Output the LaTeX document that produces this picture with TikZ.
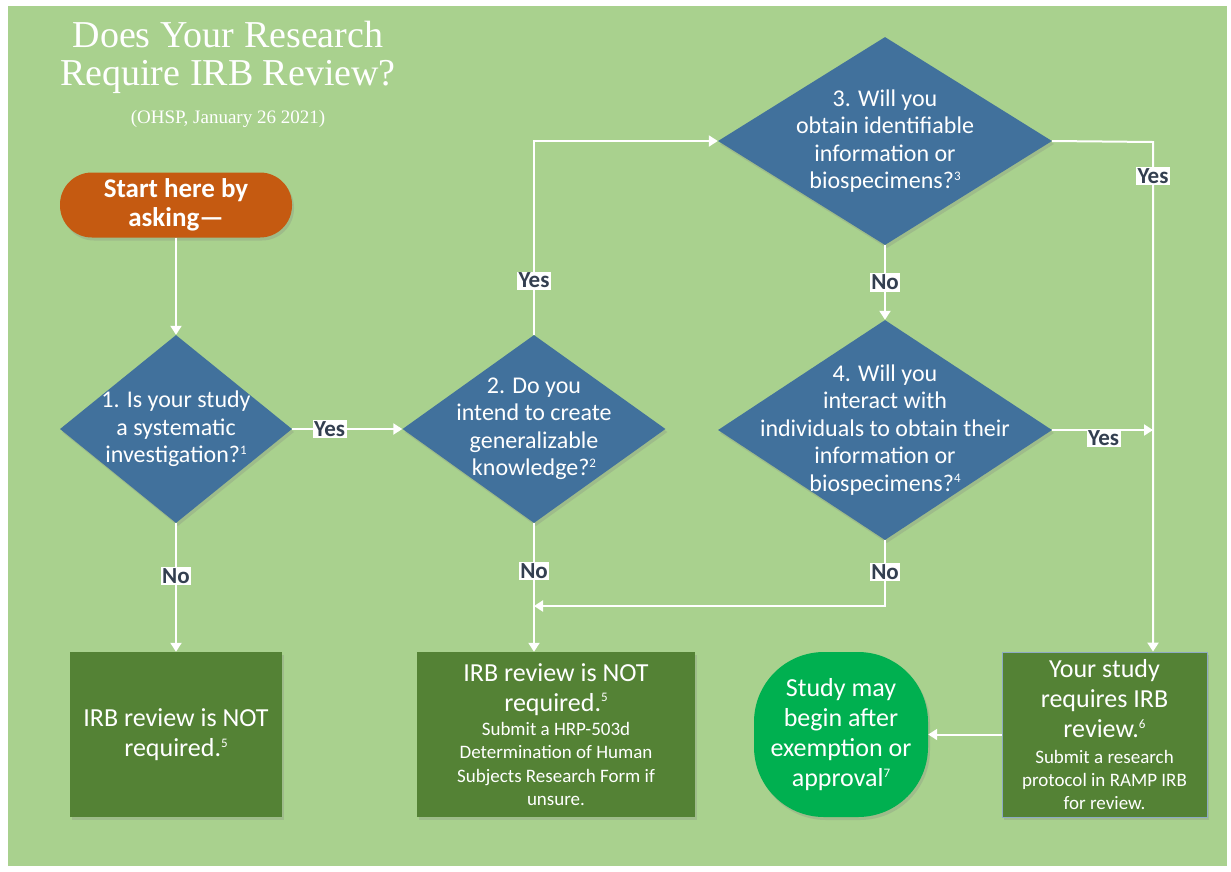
\documentclass[tikz,border=0pt]{standalone}
\usepackage{fontspec}
\setmainfont{Carlito}
\newfontfamily\headfont{Liberation Serif}
\usetikzlibrary{shapes.geometric, arrows.meta, positioning, calc, shadows}

\definecolor{bggreen}{HTML}{A9D18E}
\definecolor{qblue}{HTML}{41719C}
\definecolor{boxgreen}{HTML}{548235}
\definecolor{startorange}{HTML}{C55A11}
\definecolor{okgreen}{HTML}{00B050}
\definecolor{labeltext}{HTML}{333F50}

\newcommand{\smalltxt}[1]{{\fontsize{19}{23}\selectfont #1}}
\newcommand{\fnote}[1]{\raisebox{0.75ex}{\fontsize{13}{13}\selectfont #1}}

\begin{document}
\begin{tikzpicture}[
    x=1pt, y=-1pt,
    question/.style={diamond, fill=qblue, inner sep=0pt,
        drop shadow={shadow xshift=2pt, shadow yshift=-3pt, opacity=0.25}},
    qtext/.style={text=white, align=center, font=\fontsize{24}{27.5}\selectfont},
    result/.style={rectangle, fill=boxgreen, text=white, align=center, inner sep=0pt,
        minimum height=165pt, font=\fontsize{26}{30}\selectfont,
        drop shadow={shadow xshift=2pt, shadow yshift=-3pt, opacity=0.25}},
    startbox/.style={rectangle, rounded corners=32pt, fill=startorange, text=white,
        minimum width=232pt, minimum height=65pt, align=center,
        font=\bfseries\fontsize{27}{29}\selectfont,
        drop shadow={shadow xshift=2pt, shadow yshift=-3pt, opacity=0.25}},
    endbox/.style={rectangle, rounded corners=70pt, fill=okgreen, text=white,
        minimum width=174pt, minimum height=165pt, align=center,
        font=\fontsize{26}{30}\selectfont,
        drop shadow={shadow xshift=2pt, shadow yshift=-3pt, opacity=0.25}},
    answer/.style={fill=white, text=labeltext, inner sep=1.5pt,
        font=\bfseries\fontsize{23}{24}\selectfont},
    arrow/.style={draw=white, line width=2pt, -{Triangle[width=11pt,length=9pt]}}
]

% Background
\fill[white] (0,0) rectangle (1231,871);
\fill[bggreen] (8,6) rectangle (1227,866);
\useasboundingbox (0,0) rectangle (1231,871);

% Title
\node[text=white, align=center, font=\headfont\fontsize{38}{38}\selectfont] (title) at (228,57)
    {Does Your Research\\Require IRB Review?};
\node[text=white, font=\headfont\fontsize{19}{20}\selectfont] (date) at (228,119)
    {(OHSP, January 26 2021)};

% Nodes
\node[startbox] (start) at (176,205) {Start here by\\asking---};
\node[question, minimum width=232pt, minimum height=188pt,
    label={[qtext]center:1. Is your study\\a systematic\\investigation?\fnote{1}}] (d1) at (176,429) {};
\node[question, minimum width=263pt, minimum height=188pt,
    label={[qtext]center:2. Do you\\intend to create\\generalizable\\knowledge?\fnote{2}}] (d2) at (534,429) {};
\node[question, minimum width=334pt, minimum height=208pt,
    label={[qtext]center:3. Will you\\obtain identifiable\\information or\\biospecimens?\fnote{3}}] (d3) at (885,141) {};
\node[question, minimum width=334pt, minimum height=220pt,
    label={[qtext]center:4. Will you\\interact with\\individuals to obtain their\\information or\\biospecimens?\fnote{4}}] (d4) at (885,430) {};

\node[result, minimum width=212pt] (nr1) at (176,734.5)
    {IRB review is NOT\\required.\fnote{5}};
\node[result, minimum width=278pt] (nr2) at (556,734.5)
    {IRB review is NOT\\required.\fnote{5}\\[-6pt]
     \smalltxt{Submit a HRP-503d}\\[-6.5pt]
     \smalltxt{Determination of Human}\\[-6.5pt]
     \smalltxt{Subjects Research Form if}\\[-6.5pt]
     \smalltxt{unsure.}};
\node[result, minimum width=205pt, draw=qblue!60!white, line width=0.8pt] (nr3) at (1104.5,734.5)
    {Your study\\requires IRB\\review.\fnote{6}\\[-4pt]
     \smalltxt{Submit a research}\\[-7pt]
     \smalltxt{protocol in RAMP IRB}\\[-7pt]
     \smalltxt{for review.}};
\node[endbox] (okay) at (841,734.5)
    {Study may\\begin after\\exemption or\\approval\fnote{7}};

\coordinate (rail) at (1153,142);
\coordinate (merge) at (534,606);

% Arrows
\draw[arrow] (start) -- (d1);
\draw[arrow] (d1) -- node[answer, pos=0.34] (y1) {Yes} (d2);
\draw[arrow] (d1) -- node[answer, pos=0.41] (n1) {No} (nr1);
\draw[arrow] (d2.north) |- node[answer, pos=0.14] (y2) {Yes} (d3.west);
\draw[arrow] (d2.south) -- node[answer, pos=0.37] (n2) {No} (d2.south |- nr2.north);
\draw[arrow] (d3.east) -- (rail) -- node[answer, pos=0.067] (y3) {Yes} (rail |- nr3.north);
\draw[arrow] (d3) -- node[answer] (n3) {No} (d4);
\draw[arrow] (d4.east) -- node[answer, pos=0.51, yshift=-8pt] (y4) {Yes} (d4.east -| rail);
\draw[arrow] (d4.south) |- node[answer, pos=0.24] (n4) {No} (merge);
\draw[arrow] (nr3) -- (okay);

\end{tikzpicture}
\end{document}
